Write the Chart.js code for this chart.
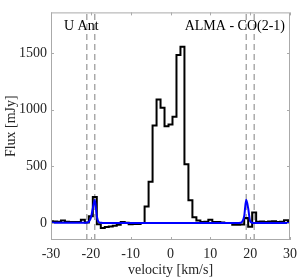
<!DOCTYPE html>
<html>
<head>
<meta charset="utf-8">
<script src="https://cdn.jsdelivr.net/npm/chart.js@4"></script>
<style>
  html, body { margin: 0; padding: 0; background: #fff; }
  #wrap { width: 303px; height: 280px; }
</style>
</head>
<body>
<div id="wrap"><canvas id="spec"></canvas></div>
<script>
// observed spectrum, 1 km/s channels (centres)
const velocity = [-30, -29, -28, -27, -26, -25, -24, -23, -22, -21, -20, -19, -18, -17, -16, -15, -14, -13, -12, -11,
  -10, -9, -8, -7, -6, -5, -4, -3, -2, -1, 0, 1, 2, 3, 4, 5, 6, 7, 8, 9,
  10, 11, 12, 13, 14, 15, 16, 17, 18, 19, 20, 21, 22, 23, 24, 25, 26, 27, 28, 29, 30];
const flux = [15, 14, 12, 22, 12, 10, 10, 10, 28, 4, 60, 230, -10, -45, -35, -30, -25, -15, 8, 2,
  -10, -8, -8, 0, 146, 365, 861, 1091, 1018, 855, 870, 939, 1484, 1556, 519, 202, 50, 23, 10, 12,
  28, 8, 10, 5, 0, 0, -15, -15, -13, 45, -32, 92, 12, 14, 10, 14, 15, 10, 12, 25, 10];

// model line (blue)
const modelVelocity = [-30, -22, -21, -20.5, -20, -19.5, -19, -18.5, -18, -17.5, -17, 0, 17, 17.5, 18, 18.5, 19, 19.5, 20, 20.5, 21, 30];
const modelFlux = [2, 2, 3, 12, 45, 130, 205, 60, 8, 2, 0, 0, 0, 2, 12, 60, 205, 130, 15, 2, 0, 0];

const markerVelocity = [-21, -19, 19, 21];
const xTicks = [-30, -20, -10, 0, 10, 20, 30];
const yTicks = [0, 500, 1000, 1500];
const yMin = -150, yMax = 1860;

const serif = '"Liberation Serif", "DejaVu Serif", serif';
const axisGrey = '#aaaaaa';
const textColor = '#262626';

function pts(xs, ys) {
    return xs.map((x, i) => ({ x: x, y: ys[i] }));
}

const datasets = [
    {
        data: pts(modelVelocity, modelFlux),
        borderColor: '#0000ff',
        borderWidth: 2,
        pointRadius: 0,
        tension: 0.3,
        cubicInterpolationMode: 'monotone'
    },
    {
        data: pts(velocity, flux),
        borderColor: '#000000',
        borderWidth: 2,
        pointRadius: 0,
        stepped: 'middle'
    }
];
markerVelocity.forEach(v => {
    datasets.push({
        data: [{ x: v, y: yMin }, { x: v, y: yMax }],
        borderColor: '#808080',
        borderWidth: 1,
        borderDash: [6, 4],
        pointRadius: 0
    });
});

// box round the plot + inward tick marks on all four sides
const boxPlugin = {
    id: 'box',
    afterDatasetsDraw(chart) {
        const { ctx, chartArea: a, scales } = chart;
        ctx.save();
        ctx.strokeStyle = axisGrey;
        ctx.lineWidth = 1;
        ctx.strokeRect(a.left + 0.5, a.top + 0.5, a.right - a.left - 1, a.bottom - a.top - 1);
        ctx.beginPath();
        xTicks.forEach(v => {
            const px = Math.round(scales.x.getPixelForValue(v)) + 0.5;
            ctx.moveTo(px, a.bottom); ctx.lineTo(px, a.bottom - 3);
            ctx.moveTo(px, a.top); ctx.lineTo(px, a.top + 3);
        });
        yTicks.forEach(v => {
            const py = Math.round(scales.y.getPixelForValue(v)) + 0.5;
            ctx.moveTo(a.left, py); ctx.lineTo(a.left + 3, py);
            ctx.moveTo(a.right, py); ctx.lineTo(a.right - 3, py);
        });
        ctx.stroke();

        ctx.fillStyle = '#000';
        ctx.font = '14px ' + serif;
        ctx.textBaseline = 'alphabetic';
        ctx.textAlign = 'left';
        ctx.fillText('U Ant', a.left + 13, a.top + 18);
        ctx.textAlign = 'right';
        ctx.fillText('ALMA - CO(2-1)', a.right - 5, a.top + 18);
        ctx.restore();
    }
};

new Chart(document.getElementById('spec'), {
    type: 'line',
    data: { datasets: datasets },
    options: {
        responsive: true,
        maintainAspectRatio: false,
        animation: false,
        layout: { padding: { top: 1, right: 12, left: 0, bottom: 0 } },
        plugins: { legend: { display: false }, tooltip: { enabled: false } },
        scales: {
            x: {
                type: 'linear',
                min: -30,
                max: 30,
                afterBuildTicks: s => { s.ticks = xTicks.map(v => ({ value: v })); },
                afterFit: s => { s.height = 40; },
                grid: { display: false, drawTicks: false },
                border: { display: false },
                ticks: { color: textColor, padding: 6, maxRotation: 0, font: { family: serif, size: 14 }, callback: v => String(v) },
                title: { display: true, text: 'velocity [km/s]', color: textColor, padding: { top: 0, bottom: 1 }, font: { family: serif, size: 14 } }
            },
            y: {
                type: 'linear',
                min: yMin,
                max: yMax,
                afterBuildTicks: s => { s.ticks = yTicks.map(v => ({ value: v })); },
                afterFit: s => { s.width = 51; },
                grid: { display: false, drawTicks: false },
                border: { display: false },
                ticks: { color: textColor, padding: 4, font: { family: serif, size: 14 }, callback: v => String(v) },
                title: { display: true, text: 'Flux [mJy]', color: textColor, padding: { top: 3, bottom: 0 }, font: { family: serif, size: 14 } }
            }
        }
    },
    plugins: [boxPlugin]
});
</script>
</body>
</html>
